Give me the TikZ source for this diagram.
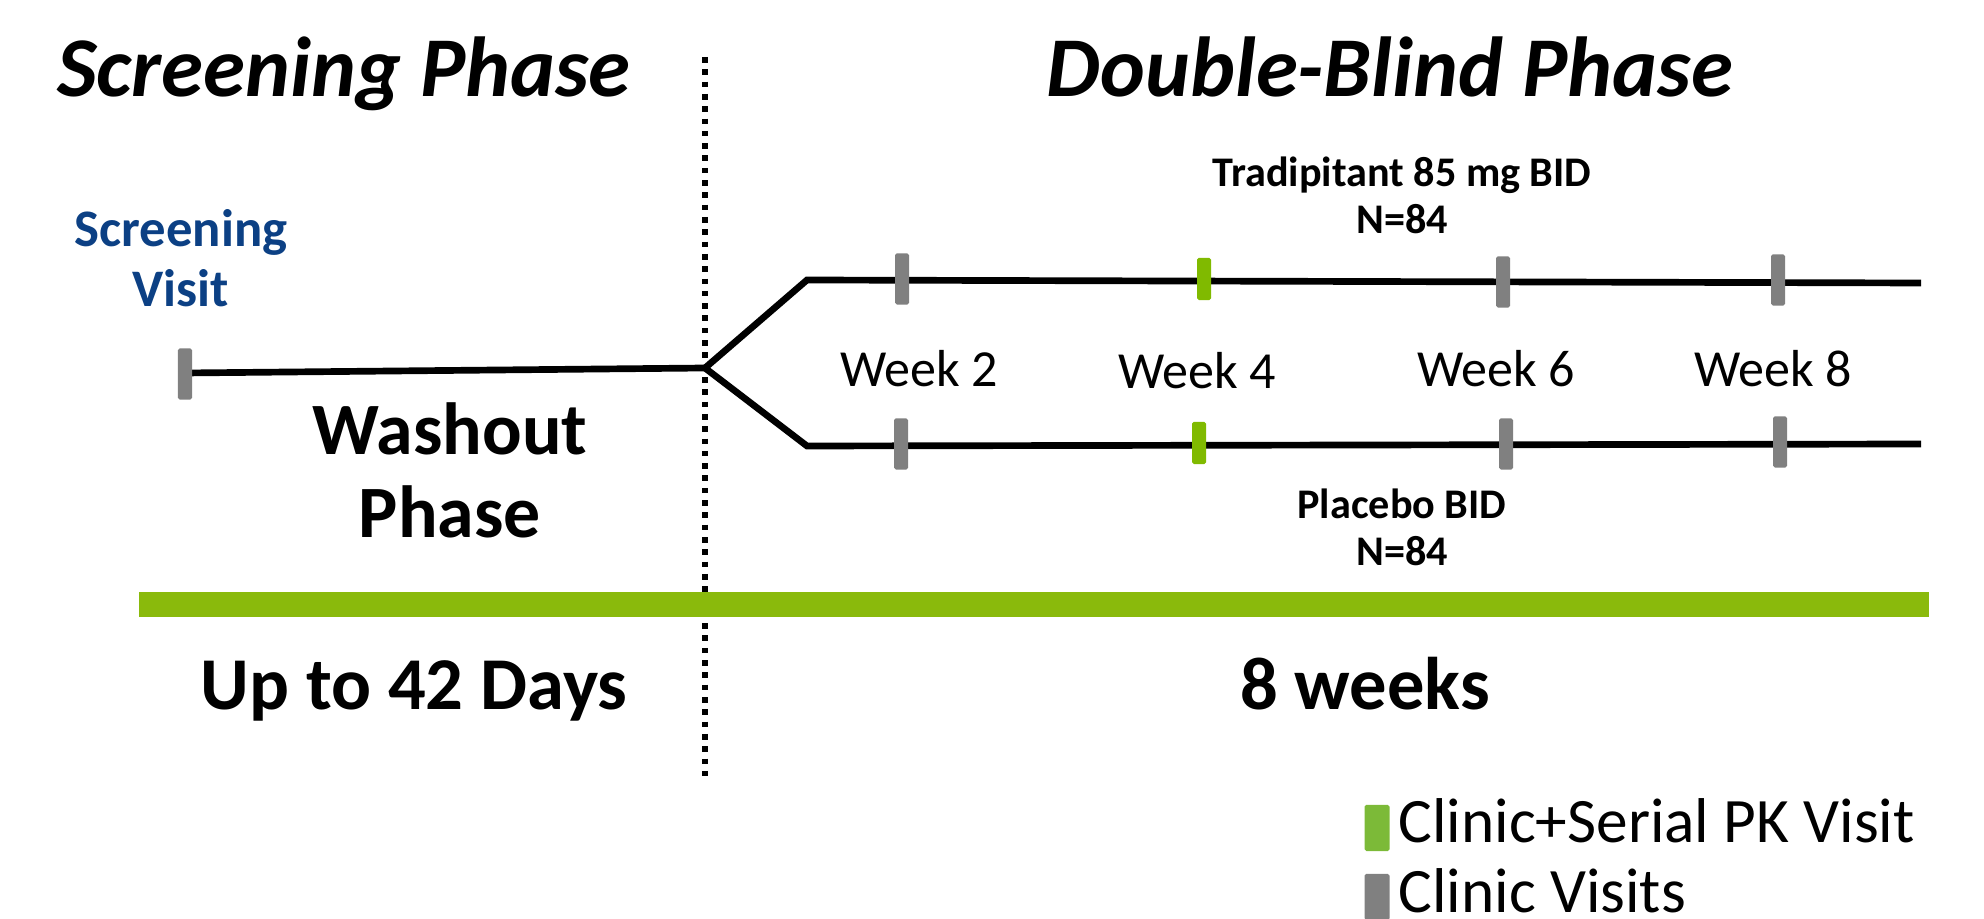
\documentclass[tikz,border=0pt]{standalone}
\usepackage{fontspec}
\setmainfont{Carlito}
\usepackage{xcolor}
\usetikzlibrary{positioning}

\definecolor{tickgrey}{RGB}{128,128,128}
\definecolor{tickgreen}{RGB}{128,186,0}
\definecolor{keygreen}{RGB}{124,186,56}
\definecolor{bargreen}{RGB}{138,186,12}
\definecolor{visitblue}{RGB}{12,64,132}

\tikzstyle{phasetitle} = [anchor=base, inner sep=0pt, font=\fontsize{24.2}{29}\selectfont\bfseries\itshape]
\tikzstyle{armline} = [line width=1.9pt, line join=miter]
\tikzstyle{divider} = [line width=1.6pt, dash pattern=on 1.6pt off 1.9pt]
\tikzstyle{clinictick} = [fill=tickgrey, rounded corners=0.5pt, inner sep=0pt, minimum width=1.4mm, minimum height=5.1mm]
\tikzstyle{pktick} = [fill=tickgreen, rounded corners=0.5pt, inner sep=0pt, minimum width=1.4mm, minimum height=4.2mm]
\tikzstyle{weeklabel} = [anchor=base, inner sep=0pt, font=\fontsize{14.8}{17}\selectfont]
\tikzstyle{armlabel} = [align=center, inner sep=0pt, font=\fontsize{12}{13.4}\selectfont\bfseries]
\tikzstyle{biglabel} = [align=center, inner sep=0pt, font=\fontsize{21}{23.6}\selectfont\bfseries]
\tikzstyle{durlabel} = [anchor=base, inner sep=0pt, font=\fontsize{21.2}{24}\selectfont\bfseries]
\tikzstyle{legendkey} = [rounded corners=0.5pt, inner sep=0pt, minimum width=2.5mm, minimum height=4.6mm]
\tikzstyle{legendtext} = [anchor=base west, inner sep=0pt, font=\fontsize{18}{21}\selectfont]

\begin{document}
\begin{tikzpicture}[x=0.01cm, y=-0.01cm]
	\useasboundingbox (0,0) rectangle (1984,919);

	\node[phasetitle] (screentitle) at (344,97) {Screening Phase};
	\node[phasetitle] (dbtitle) at (1390,97) {Double-Blind Phase};

	% dotted divider between the phases
	\coordinate (divtop) at (705,57);
	\coordinate (divbot) at (705,778);
	\draw[divider] (divtop) -- (divbot);

	\node[armlabel, text=visitblue, font=\fontsize{15}{17}\selectfont\bfseries] (svlabel) at (181,258) {Screening\\Visit};
	\node[biglabel] (washout) at (450,470) {Washout\\Phase};

	% timeline and the two arms
	\coordinate (svpoint) at (185,373);
	\coordinate (split) at (705,368);
	\coordinate (armtop) at (807,280);
	\coordinate (armbot) at (807,446);
	\coordinate (topend) at (1921,283);
	\coordinate (botend) at (1921,444);
	\draw[armline] (svpoint) -- (split);
	\draw[armline] (topend) -- (armtop) -- (split) -- (armbot) -- (botend);

	\node[clinictick] (sv) at (185,374) {};
	\foreach \x/\y/\kind [count=\i] in {902/279/clinictick, 1204/279/pktick, 1503/282/clinictick, 1778/280/clinictick}
		\node[\kind] (top\i) at (\x,\y) {};
	\foreach \x/\y/\kind [count=\i] in {901/444/clinictick, 1199/443/pktick, 1506/444/clinictick, 1780/442/clinictick}
		\node[\kind] (bot\i) at (\x,\y) {};

	\foreach \x/\y/\w in {919/387/2, 1197/389/4, 1496/387/6, 1773/387/8}
		\node[weeklabel] (week\w) at (\x,\y) {Week \w};

	\node[armlabel] (activearm) at (1402,195) {Tradipitant 85 mg BID\\N=84};
	\node[armlabel] (placeboarm) at (1402,527) {Placebo BID\\N=84};

	% duration bar
	\fill[bargreen] (139,592) rectangle (1929,617);
	\node[durlabel] (screendur) at (414,710) {Up to 42 Days};
	\node[durlabel] (dbdur) at (1365,710) {8 weeks};

	% legend
	\node[legendkey, fill=keygreen] (keypk) at (1377,828) {};
	\node[legendkey, fill=tickgrey] (keyclinic) at (1377,897) {};
	\node[legendtext] (keypktext) at (1398,843) {Clinic+Serial PK Visit};
	\node[legendtext] (keyclinictext) at (1398,913) {Clinic Visits};

\end{tikzpicture}
\end{document}
